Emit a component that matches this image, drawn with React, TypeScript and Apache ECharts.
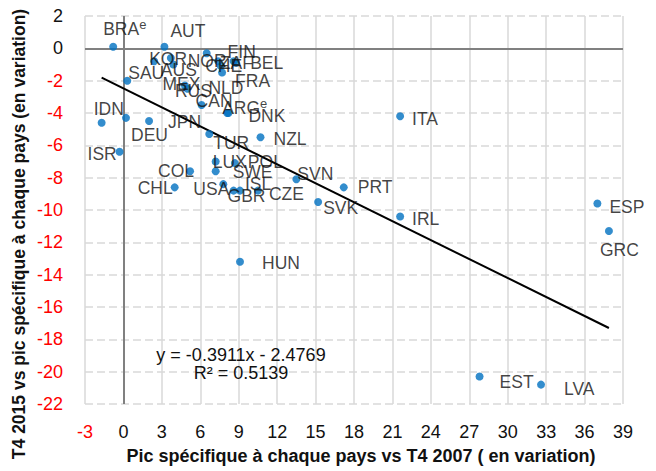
import React, { useEffect, useRef } from "react";
import * as echarts from "echarts";

const countries = [
  "BRA", "AUT", "KOR", "NOR", "FIN", "BEL", "AUS", "CHE", "ZAF", "FRA", "MEX", "RUS", "NLD", "CAN", "ARG", "DNK",
  "SAU", "IDN", "DEU", "JPN", "ISR", "TUR", "NZL", "LUX", "POL", "COL", "SWE", "CHL", "USA", "GBR", "ISL", "CZE",
  "SVN", "PRT", "SVK", "HUN", "ITA", "IRL", "ESP", "GRC", "EST", "LVA",
];
const estimated = ["BRA", "ARG"];
const xValues = [
  -0.8, 3.2, 2.4, 6.5, 8.6, 8.8, 3.7, 7.4, 7.6, 7.7, 3.9, 4.8, 5.0, 6.1, 8.1, 8.2,
  0.3, -1.7, 0.2, 2.0, -0.3, 6.7, 10.7, 7.2, 8.7, 5.2, 7.2, 4.0, 7.8, 8.6, 9.1, 10.5,
  13.5, 17.2, 15.2, 9.1, 21.6, 21.6, 37.0, 37.9, 27.8, 32.6,
];
const yValues = [
  0.1, 0.1, -0.8, -0.3, -0.8, -0.9, -0.6, -0.8, -1.1, -1.5, -1.0, -2.3, -2.5, -3.5, -4.0, -4.0,
  -2.0, -4.6, -4.3, -4.5, -6.4, -5.3, -5.5, -7.0, -7.1, -7.6, -7.6, -8.6, -8.4, -8.8, -8.8, -8.8,
  -8.1, -8.6, -9.5, -13.2, -4.2, -10.4, -9.6, -11.3, -20.3, -20.8,
];
const trendSlope = -0.3911;
const trendIntercept = -2.4769;
const rSquared = 0.5139;
const xTicks = { min: -3, max: 39, interval: 3 };
const yTicks = { min: -22, max: 2, interval: 2 };
const xTitle = "Pic spécifique à chaque pays vs T4 2007 ( en variation)";
const yTitle = "T4 2015 vs pic spécifique à chaque pays (en variation)";

// label placement (pixel offset of the label's left/centre from the point)
const labelOffset: Record<string, [number, number]> = {
  BRA: [-10, -18], AUT: [6, -16], KOR: [-5, -2], NOR: [-19, 8], FIN: [-6, -9], BEL: [14, 0],
  AUS: [-10, 12], CHE: [-13, 5], ZAF: [-1, -3], FRA: [13, 8], MEX: [-11, 19], RUS: [-10, 5],
  NLD: [21, -1], CAN: [-6, -4], ARG: [-5, -5], DNK: [20, 3], SAU: [1, -8], IDN: [-8, -14],
  DEU: [5, 17], JPN: [19, 1], ISR: [-32, 2], TUR: [4, 9], NZL: [13, 2], LUX: [-3, 0],
  POL: [13, -1], COL: [-32, 0], SWE: [17, 1], CHL: [-37, 1], USA: [-30, 5], GBR: [-6, 5],
  ISL: [5, -7], CZE: [11, 3], SVN: [1, -5], PRT: [14, 0], SVK: [5, 6], HUN: [22, 1],
  ITA: [12, 3], IRL: [12, 3], ESP: [12, 3], GRC: [-9, 19], EST: [20, 5], LVA: [23, 4],
};

const FONT = "'Liberation Sans', Arial, sans-serif";
const SYM = 8;
const INK = "#111111";

export default function App() {
  const ref = useRef<HTMLDivElement>(null);
  useEffect(() => {
    document.body.style.margin = "0";
    const chart = echarts.init(ref.current!, undefined, { renderer: "svg" });
    const points = countries.map((c, i) => {
      const [dx, dy] = labelOffset[c] || [12, 2];
      const est = estimated.includes(c);
      return {
        name: c,
        value: [xValues[i], yValues[i]],
        label: {
          show: true,
          position: [dx + SYM / 2, dy + SYM / 2],
          align: "left",
          verticalAlign: "middle",
          formatter: est ? `{n|${c}}{s|e}` : c,
          rich: est
            ? {
                n: { fontFamily: FONT, fontSize: 17.5, color: INK, textBorderWidth: 0 },
                s: { fontFamily: FONT, fontSize: 13, color: INK, textBorderWidth: 0, padding: [0, 0, 9, 0] },
              }
            : undefined,
        },
      };
    });
    const xMin = Math.min(...xValues);
    const xMax = Math.max(...xValues);
    const trend = [
      [xMin, trendSlope * xMin + trendIntercept],
      [xMax, trendSlope * xMax + trendIntercept],
    ];
    const fmt = (v: number) => Math.abs(v).toFixed(4);
    chart.setOption({
      animation: false,
      backgroundColor: "#ffffff",
      textStyle: { fontFamily: FONT },
      grid: { left: 85, right: 33, top: 16, bottom: 67, outerBoundsMode: "none", containLabel: false },
      xAxis: {
        type: "value",
        min: xTicks.min,
        max: xTicks.max,
        interval: xTicks.interval,
        axisLine: { show: false },
        axisTick: { show: false },
        axisLabel: {
          margin: 19,
          fontSize: 18,
          fontFamily: FONT,
          color: (v: any) => (Number(v) < 0 ? "#ff0000" : INK),
        },
        splitLine: { show: true, lineStyle: { color: "#d9d9d9", width: 1.5, type: "solid" } },
        name: xTitle,
        nameLocation: "middle",
        nameGap: 43,
        nameTextStyle: {
          fontFamily: FONT,
          fontSize: 18,
          fontWeight: "bold",
          color: INK,
          padding: [0, 0, 0, 14],
        },
      },
      yAxis: {
        type: "value",
        min: yTicks.min,
        max: yTicks.max,
        interval: yTicks.interval,
        axisLine: { show: false },
        axisTick: { show: false },
        axisLabel: {
          margin: 22,
          fontSize: 18,
          fontFamily: FONT,
          color: (v: any) => (Number(v) < 0 ? "#ff0000" : INK),
        },
        splitLine: { show: true, lineStyle: { color: "#d9d9d9", width: 1.5, type: [8, 4] } },
      },
      series: [
        {
          type: "line",
          data: trend,
          symbol: "none",
          lineStyle: { color: "#000000", width: 2 },
          silent: true,
          z: 3,
          markLine: {
            silent: true,
            symbol: "none",
            label: { show: false },
            lineStyle: { color: "#808080", width: 2, type: "solid" },
            data: [{ xAxis: 0 }, { yAxis: 0 }],
            z: 1,
          },
        },
        {
          type: "scatter",
          data: points,
          symbol: "circle",
          symbolSize: SYM,
          itemStyle: { color: "#0070c0" },
          label: {
            fontFamily: FONT,
            fontSize: 17.5,
            color: INK,
            textBorderWidth: 0,
            textBorderColor: "transparent",
          },
          labelLayout: { hideOverlap: false },
          z: 4,
        },
      ],
      graphic: [
        {
          type: "text",
          x: 19,
          y: 234,
          rotation: Math.PI / 2,
          style: {
            text: yTitle,
            font: `bold 17.5px ${FONT}`,
            fill: INK,
            align: "center",
            verticalAlign: "middle",
          },
          z: 10,
        },
        {
          type: "text",
          x: 241,
          y: 355,
          style: {
            text: `y = ${trendSlope < 0 ? "-" : ""}${fmt(trendSlope)}x ${trendIntercept < 0 ? "-" : "+"} ${fmt(trendIntercept)}`,
            font: `18px ${FONT}`,
            fill: INK,
            align: "center",
            verticalAlign: "middle",
          },
          z: 10,
        },
        {
          type: "text",
          x: 241,
          y: 373,
          style: {
            text: `R² = ${rSquared.toFixed(4)}`,
            font: `18px ${FONT}`,
            fill: INK,
            align: "center",
            verticalAlign: "middle",
          },
          z: 10,
        },
      ],
    });
    return () => chart.dispose();
  }, []);
  return <div ref={ref} style={{ width: 656, height: 471 }} />;
}
